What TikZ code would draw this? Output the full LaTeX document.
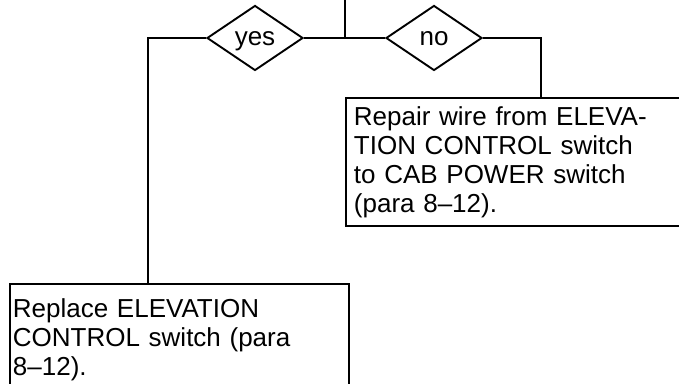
\documentclass[tikz,border=0pt]{standalone}
\usepackage{fontspec}
\setmainfont{Liberation Sans}
\usetikzlibrary{positioning,shapes.geometric}

\begin{document}
\begin{tikzpicture}[
    x=1pt, y=1pt,
    line width=1.9pt,
    every node/.style={font=\fontsize{26pt}{29pt}\selectfont},
    choice/.style={
        diamond,
        draw,
        inner sep=0pt,
        text height=18pt,
        text depth=2pt,
        minimum width=96pt,
        minimum height=65pt
    },
    action/.style={
        rectangle,
        draw,
        anchor=north west,
        align=left,
        inner ysep=6pt
    }
]
\useasboundingbox (0,0) rectangle (679,383);
\clip (0,0) rectangle (679,383);

\coordinate (top) at (345,390);
\coordinate (split) at (345,345);

\node[choice] (yes) at (255,345) {yes};
\node[choice] (no) at (434,345) {no};

\node[action, inner xsep=8pt, text width=344pt, minimum height=128pt] (repair) at (345,286)
{Repair wire from ELEVA-\\TION CONTROL switch\\to CAB POWER switch\\(para 8--12).};

\node[action, inner xsep=3pt, text width=333pt, minimum height=112pt] (replace) at (9,100)
{Replace ELEVATION\\CONTROL switch (para\\8--12).};

\coordinate (yesturn) at (148,345);
\coordinate (noturn) at (541,345);

\draw (top) -- (split);
\draw (yes) -- (split) -- (no);
\draw (yes) -- (yesturn) -- (yesturn |- replace.north);
\draw (no) -- (noturn) -- (noturn |- repair.north);

\end{tikzpicture}
\end{document}
